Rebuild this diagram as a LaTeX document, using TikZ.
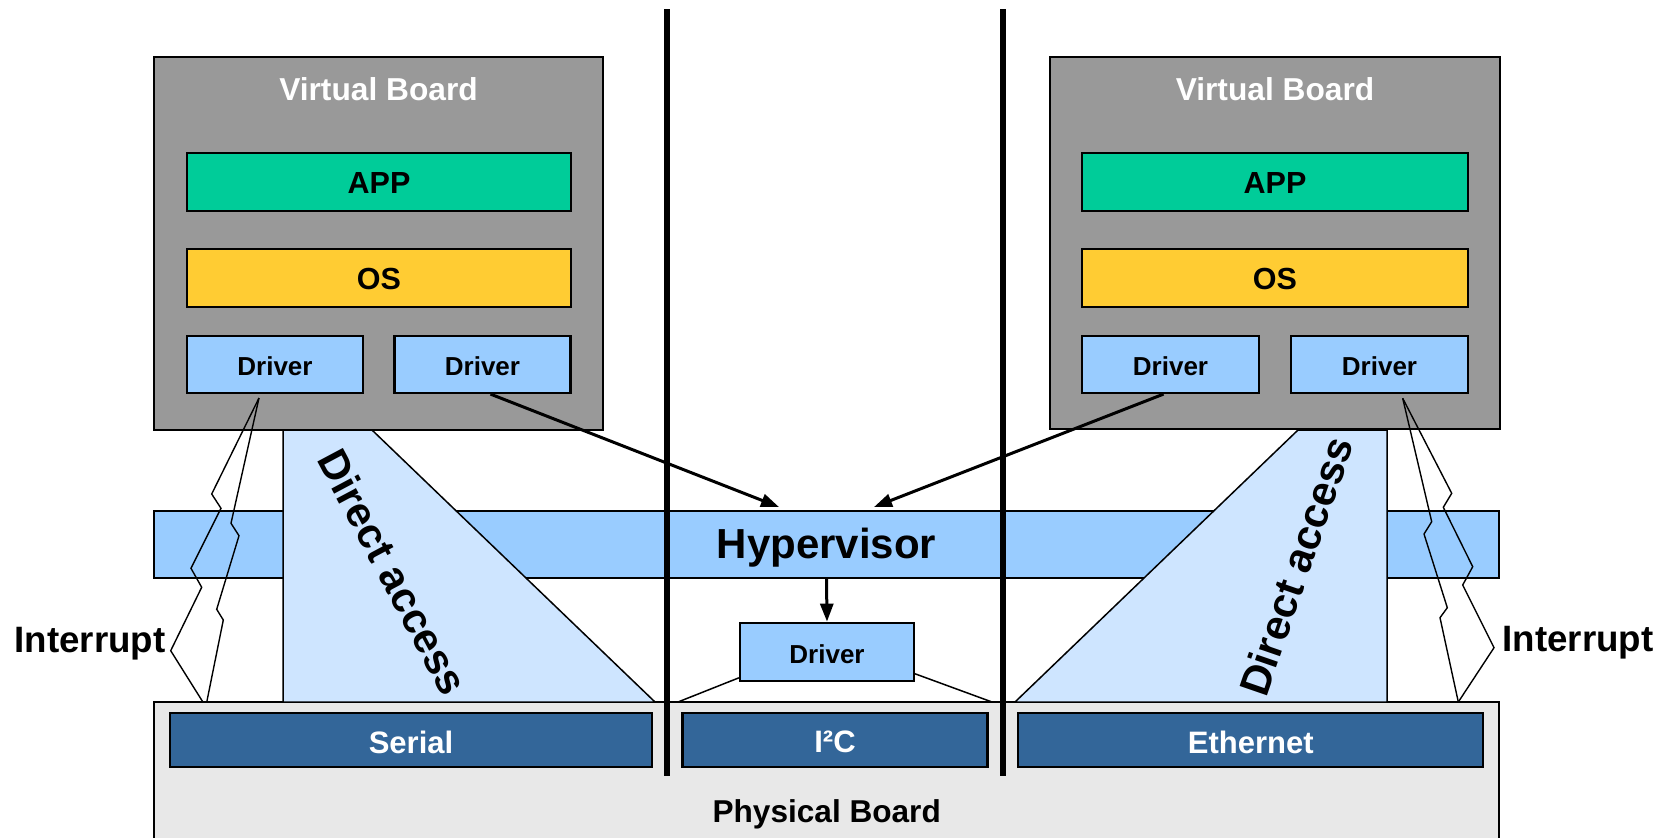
\documentclass[tikz,border=0pt]{standalone}
\usepackage{fontspec}
\setmainfont{Liberation Sans}
\usetikzlibrary{arrows.meta,calc}
\definecolor{vbgray}{RGB}{153,153,153}
\definecolor{appgreen}{RGB}{0,204,153}
\definecolor{osyellow}{RGB}{255,204,51}
\definecolor{drvblue}{RGB}{153,204,255}
\definecolor{hwblue}{RGB}{51,102,153}
\definecolor{pbgray}{RGB}{232,232,232}
\definecolor{dafill}{RGB}{206,229,255}
\newcommand\lowertxt[2]{\raisebox{-#1}[\height][\depth]{#2}}
\begin{document}
\begin{tikzpicture}[x=1pt,y=-1pt,
  lbl/.style={inner sep=0pt,font=\bfseries\fontsize{#1}{#1}\selectfont},
  box/.style={draw=black,line width=2.2pt,inner sep=0pt},
  vboard/.style={box,fill=vbgray,line width=2pt,minimum width=449pt,minimum height=373pt},
  appbox/.style={box,fill=appgreen,minimum width=384pt,minimum height=58pt,font=\bfseries\fontsize{30.5}{30.5}\selectfont},
  osbox/.style={box,fill=osyellow,minimum width=384pt,minimum height=58pt,font=\bfseries\fontsize{30.5}{30.5}\selectfont},
  drvbox/.style={box,fill=drvblue,minimum width=176pt,minimum height=57pt,font=\bfseries\fontsize{26}{26}\selectfont},
  hwbox/.style={box,fill=hwblue,line width=2.5pt,minimum height=54pt,text=white,font=\bfseries\fontsize{31}{31}\selectfont},
  thinline/.style={line width=1.5pt},
  intr/.style={line width=1.4pt,line join=miter},
  arr/.style={line width=3pt,-{Triangle[length=18pt,width=13pt]}},
  sepline/.style={line width=6.5pt},
  da/.style={fill=dafill,draw=black,line width=1.5pt,line join=miter}
]
\useasboundingbox (0,0) rectangle (1668,838);

% physical board
\node[draw=black,line width=1.5pt,fill=pbgray,minimum width=1345pt,minimum height=143pt,inner sep=0pt] (pb) at (826.5,773.5) {};
\node[lbl=31.6] (pbt) at (826.7,814.5) {Physical Board};
\node[hwbox,minimum width=482pt] (serial) at (411,740) {\lowertxt{2pt}{Serial}};
\node[hwbox,minimum width=305pt] (i2c) at (835,740) {\lowertxt{2pt}{I²C}};
\node[hwbox,minimum width=465pt] (eth) at (1250.7,740) {\lowertxt{2pt}{Ethernet}};

% hypervisor
\node[draw=black,line width=1.5pt,fill=drvblue,minimum width=1345pt,minimum height=67pt,inner sep=0pt,font=\bfseries\fontsize{42}{42}\selectfont] (hyp) at (826.5,544.5) {\lowertxt{3.2pt}{Hypervisor}};

% direct access
\filldraw[da] (283,430) -- (372,430) -- (655,702) -- (283,702) -- cycle;
\filldraw[da] (1015,702) -- (1298,430) -- (1387,430) -- (1387,702) -- cycle;
\node[lbl=42,rotate=-62] (dal) at (393,572) {Direct access};
\node[lbl=42,rotate=71] (dar) at (1296,566) {Direct access};

% virtual boards
\node[vboard] (vbl) at (378.5,243.5) {};
\node[lbl=31.7,text=white] (vblt) at (378.5,89) {Virtual Board};
\node[appbox] (appl) at (379,182) {\lowertxt{1pt}{APP}};
\node[osbox] (osl) at (379,278) {\lowertxt{1pt}{OS}};
\node[drvbox] (dl1) at (275,364.5) {\lowertxt{2pt}{Driver}};
\node[drvbox] (dl2) at (482.5,364.5) {\lowertxt{2pt}{Driver}};

\node[vboard,minimum width=450pt,minimum height=372pt] (vbr) at (1275,243) {};
\node[lbl=31.7,text=white] (vbrt) at (1275,89) {Virtual Board};
\node[appbox,minimum width=386pt] (appr) at (1275,182) {\lowertxt{1pt}{APP}};
\node[osbox,minimum width=386pt] (osr) at (1275,278) {\lowertxt{1pt}{OS}};
\node[drvbox,minimum width=177pt] (dr1) at (1170.5,364.5) {\lowertxt{2pt}{Driver}};
\node[drvbox,minimum width=177pt] (dr2) at (1379.5,364.5) {\lowertxt{2pt}{Driver}};

% middle driver
\node[drvbox,minimum width=174pt,minimum height=58pt] (md) at (827,651.7) {\lowertxt{2pt}{Driver}};
\coordinate (mdl) at (678,702);
\coordinate (mdr) at (992,702);
\draw[thinline] ($(md.south west)+(0,-4)$) -- (mdl);
\draw[thinline] ($(md.south east)+(0,-8)$) -- (mdr);

% separators
\draw[sepline] (667,9) -- (667,776);
\draw[sepline] (1003,9) -- (1003,776);

% arrows
\coordinate (tl) at (779,507);
\coordinate (tr) at (874,507);
\draw[arr] ($(dl2.south)+(8,0)$) -- (tl);
\draw[arr] ($(dr1.south)+(-7,0)$) -- (tr);
\draw[arr] (hyp.south) -- (md.north);

% interrupts
\coordinate (il) at (259,398);
\coordinate (ir) at (1402.7,398.3);
\draw[intr] (il) -- (211.7,494) -- (221,508.3) -- (191,568.3) -- (201.7,587.3) -- (170.7,650.7) -- (202.7,701.7);
\draw[intr] (il) -- (231,523.3) -- (239,535.7) -- (216.7,609.3) -- (223.3,620) -- (206.7,702.3);
\draw[intr] (ir) -- (1431.7,521.7) -- (1424,534) -- (1447.3,607.7) -- (1440,617.7) -- (1458.3,702);
\draw[intr] (ir) -- (1451.7,493.3) -- (1443.3,507.3) -- (1472.7,566.7) -- (1462.7,585) -- (1494,647.7) -- (1458.3,702);
\node[lbl=36.7] (intl) at (90,644) {Interrupt};
\node[lbl=36.7] (intr2) at (1578,643) {Interrupt};
\end{tikzpicture}
\end{document}
